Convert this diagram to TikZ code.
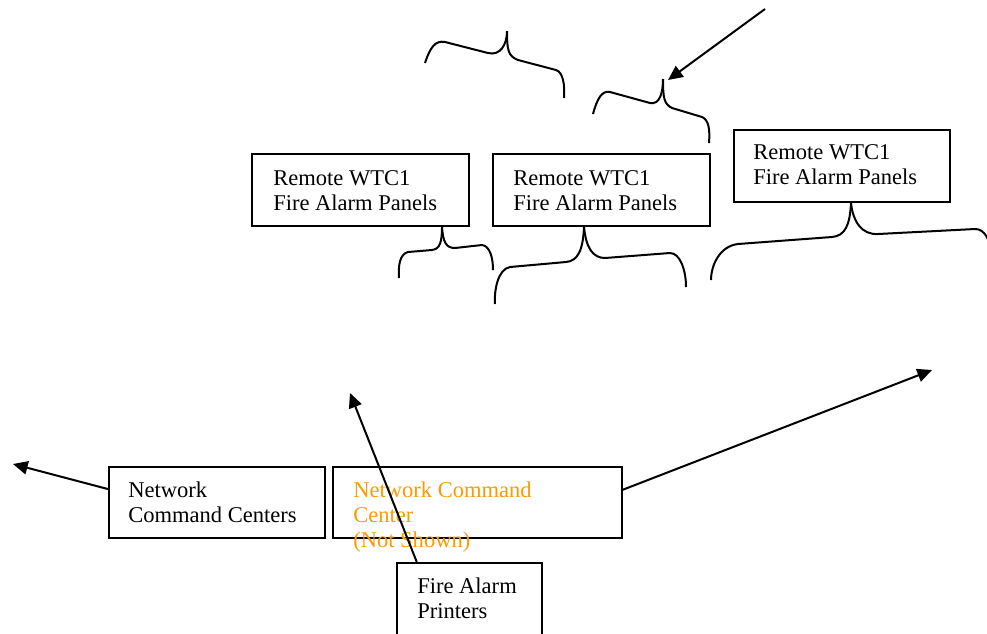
\documentclass[tikz,border=0pt]{standalone}
\usepackage{fontspec}
\setmainfont{Liberation Serif}
\usetikzlibrary{arrows.meta,calc}
\definecolor{ncorange}{RGB}{255,153,0}
\begin{document}
\begin{tikzpicture}[x=0.75pt,y=-0.75pt,
  boxstyle/.style={draw=black,line width=1.4pt,rectangle,inner sep=0pt},
  labelstyle/.style={anchor=base west,inner sep=0pt,align=left,font=\fontsize{16.9}{18.75}\selectfont},
  bracestyle/.style={draw=black,line width=1.5pt},
  arrowstyle/.style={draw=black,line width=1.5pt,-{Triangle[length=11pt,width=10pt]}}]
\useasboundingbox (0,0) rectangle (987,633);
\clip (0,0) rectangle (987,633);

% boxes
\node[boxstyle,minimum width=162.75pt,minimum height=54pt,anchor=north west] (ra) at (251,153) {};
\node[boxstyle,minimum width=162.75pt,minimum height=54pt,anchor=north west] (rb) at (492,153) {};
\node[boxstyle,minimum width=162pt,minimum height=54pt,anchor=north west] (rc) at (733,129) {};
\node[boxstyle,minimum width=162pt,minimum height=53.25pt,anchor=north west] (ncc) at (108,466) {};
\node[boxstyle,minimum width=216.75pt,minimum height=53.25pt,anchor=north west] (nc) at (332,466) {};
\node[boxstyle,minimum width=108.75pt,minimum height=56pt,anchor=north west] (pr) at (396,562) {};

% texts (base anchor = baseline of the last line)
\node[labelstyle] (rat) at ($(ra.north west)+(22,57)$) {Remote WTC1\\Fire Alarm Panels};
\node[labelstyle] (rbt) at ($(rb.north west)+(21,57)$) {Remote WTC1\\Fire Alarm Panels};
\node[labelstyle] (rct) at ($(rc.north west)+(20,55)$) {Remote WTC1\\Fire Alarm Panels};
\node[labelstyle] (ncct) at ($(ncc.north west)+(20,56)$) {Network\\Command Centers};
\node[labelstyle,text=ncorange] (nct) at ($(nc.north west)+(21,81)$) {Network Command\\Center\\(Not Shown)};
\node[labelstyle] (prt) at ($(pr.north west)+(21,56)$) {Fire Alarm\\Printers};

% braces
\path[bracestyle] (425,63) .. controls (430,48) and (435,40) .. (445,42) -- (488,53) .. controls (500,56) and (507,45) .. (507,31);
\path[bracestyle] (507,31) .. controls (507,50) and (508,56) .. (518,60) -- (556,70) .. controls (563,72) and (565,85) .. (564,98);

\path[bracestyle] (593,114) .. controls (597,99) and (602,90) .. (610,92) -- (650,103) .. controls (660,105) and (663,92) .. (663,79);
\path[bracestyle] (663,79) .. controls (663,98) and (664,104) .. (672,108) -- (702,117) .. controls (709,120) and (710,130) .. (709,143);

\coordinate (b3) at ($(ra.south west)+(191,0)$);
\path[bracestyle] (b3) .. controls (442,242) and (440,249) .. (432,250) -- (408,252) .. controls (400,254) and (398,265) .. (399,278);
\path[bracestyle] (b3) .. controls (443,242) and (446,248) .. (455,248) -- (482,245) .. controls (490,246) and (493,258) .. (493,270);

\coordinate (b4) at ($(rb.south west)+(92,0)$);
\path[bracestyle] (b4) .. controls (583,250) and (578,261) .. (566,262) -- (510,267) .. controls (498,269) and (494,290) .. (495,304);
\path[bracestyle] (b4) .. controls (586,248) and (593,258) .. (605,258) -- (670,253) .. controls (680,253) and (686,270) .. (686,287);

\coordinate (b5) at ($(rc.south west)+(118,0)$);
\path[bracestyle] (b5) .. controls (850,225) and (845,236) .. (832,237) -- (738,244) .. controls (720,246) and (711,265) .. (711,280);
\path[bracestyle] (b5) .. controls (853,222) and (862,235) .. (878,234) -- (975,229) .. controls (985,229) and (990,240) .. (992,255);

% arrows
\coordinate (t1) at (765,9);
\coordinate (t1e) at (668,80);
\draw[arrowstyle] (t1) -- (t1e);

\coordinate (e1) at (13,464);
\draw[arrowstyle] (ncc.173) -- (e1);

\coordinate (e2) at (350,393);
\draw[arrowstyle] (pr.144) -- (e2);

\coordinate (e3) at (932,370);
\draw[arrowstyle] (nc.5) -- (e3);
\end{tikzpicture}
\end{document}
